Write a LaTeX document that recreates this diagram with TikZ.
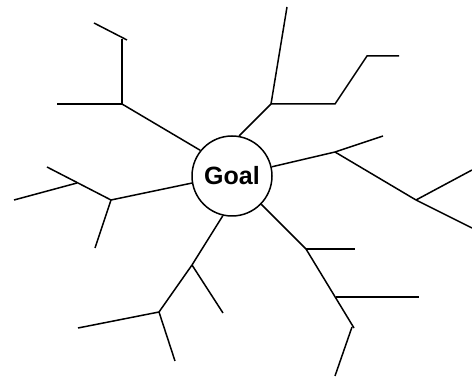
\documentclass[tikz,border=0pt]{standalone}
\usepackage{fontspec}
\setmainfont{Liberation Sans}
\begin{document}
\begin{tikzpicture}[x=1pt,y=1pt,
  branch/.style={line width=1.5pt, black},
  goalnode/.style={circle, draw, line width=1.5pt, minimum size=80pt, inner sep=0pt, fill=white,
    font=\fontsize{25}{30}\selectfont\bfseries}]
\useasboundingbox (0,0) rectangle (472,378);
\node[goalnode] (goal) at (232,202) {Goal};
% upper-left branch
\coordinate (j1) at (122,274);
\coordinate (a1) at (57,274);
\coordinate (a2) at (122,339);
\coordinate (a3) at (94,355);
\coordinate (a4) at (127,338);
\draw[branch] (goal.141) -- (j1);
\draw[branch] (j1) -- (a1);
\draw[branch] (j1) -- (a2);
\draw[branch] (a3) -- (a4);
% upper branch
\coordinate (j2) at (271,274);
\coordinate (b1) at (287,371);
\coordinate (b2) at (335,274);
\coordinate (b3) at (367,322);
\coordinate (b4) at (399,322);
\draw[branch] (goal.80) -- (j2);
\draw[branch] (j2) -- (b1);
\draw[branch] (j2) -- (b2) -- (b3) -- (b4);
% right branch
\coordinate (j3) at (335,226);
\coordinate (c1) at (383,242);
\coordinate (j4) at (416,178);
\coordinate (c2) at (472,208);
\coordinate (c3) at (472,150);
\draw[branch] (goal.13) -- (j3);
\draw[branch] (j3) -- (c1);
\draw[branch] (j3) -- (j4);
\draw[branch] (j4) -- (c2);
\draw[branch] (j4) -- (c3);
% lower-right branch
\coordinate (j5) at (306,129);
\coordinate (d1) at (355,129);
\coordinate (d2) at (354,50);
\coordinate (d3) at (336,81);
\coordinate (d4) at (419,81);
\coordinate (d5) at (352,51);
\coordinate (d6) at (335,2);
\draw[branch] (goal.-44) -- (j5);
\draw[branch] (j5) -- (d1);
\draw[branch] (j5) -- (d2);
\draw[branch] (d3) -- (d4);
\draw[branch] (d5) -- (d6);
% lower branch
\coordinate (j6) at (192,113);
\coordinate (e1) at (223,65);
\coordinate (j7) at (159,66);
\coordinate (e2) at (78,50);
\coordinate (e3) at (175,17);
\draw[branch] (goal.257) -- (j6);
\draw[branch] (j6) -- (e1);
\draw[branch] (j6) -- (j7);
\draw[branch] (j7) -- (e2);
\draw[branch] (j7) -- (e3);
% left branch
\coordinate (j8) at (111,178);
\coordinate (f1) at (47,211);
\coordinate (f2) at (77,195);
\coordinate (f3) at (14,178);
\coordinate (f4) at (95,130);
\draw[branch] (goal.190) -- (j8);
\draw[branch] (j8) -- (f1);
\draw[branch] (f2) -- (f3);
\draw[branch] (j8) -- (f4);
\end{tikzpicture}
\end{document}
